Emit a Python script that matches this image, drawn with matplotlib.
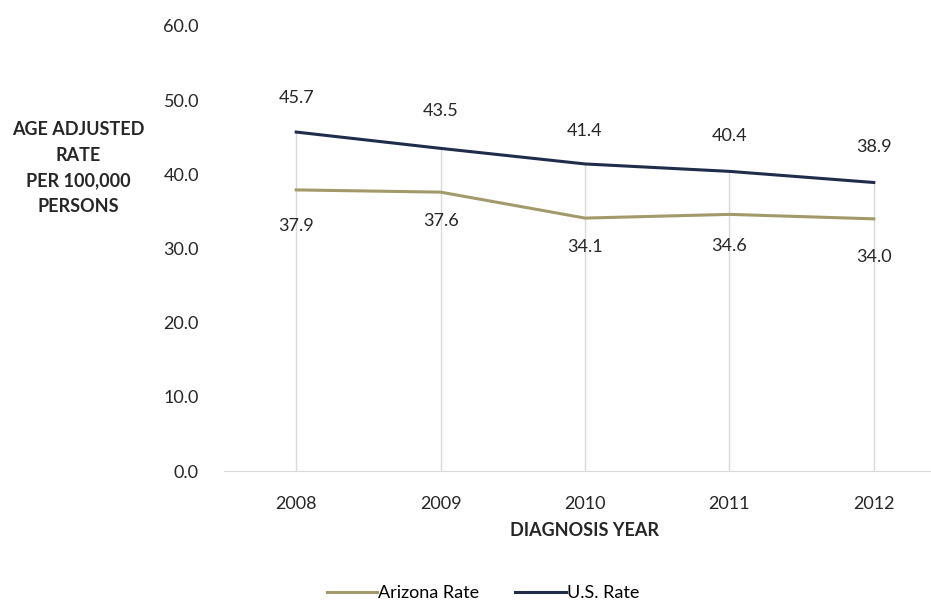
import matplotlib
matplotlib.use("Agg")
import matplotlib.pyplot as plt

years = ["2008", "2009", "2010", "2011", "2012"]
arizona = [37.9, 37.6, 34.1, 34.6, 34.0]
us = [45.7, 43.5, 41.4, 40.4, 38.9]

# label distance from the line, in pixels (labels sit above U.S., below Arizona)
us_off = [34, 37, 33, 35, 35]
az_off = [36, 29, 29, 32, 38]

plt.rcParams["font.family"] = ["Lato", "DejaVu Sans"]

fig = plt.figure(figsize=(9.31, 6.02), dpi=100)
ax = fig.add_axes([224 / 931, 1 - 471 / 602, 722 / 931, 445 / 602])

x = list(range(len(years)))
tops = [max(a, u) for a, u in zip(arizona, us)]
ax.vlines(x, 0, tops, color="#d9d9d9", lw=1, zorder=1)

ax.plot(x, arizona, color="#a39a6b", lw=2.2, label="Arizona Rate", zorder=3)
ax.plot(x, us, color="#1f2d4a", lw=2.2, label="U.S. Rate", zorder=3)

txt = "#262626"
for i, v in enumerate(us):
    ax.annotate(f"{v:.1f}", (i, v), xytext=(0, us_off[i] * 0.72), textcoords="offset points",
                ha="center", va="center", fontsize=13, color=txt)
for i, v in enumerate(arizona):
    ax.annotate(f"{v:.1f}", (i, v), xytext=(0, -az_off[i] * 0.72), textcoords="offset points",
                ha="center", va="center", fontsize=13, color=txt)

ax.set_xlim(-0.5, len(years) - 0.5)
ax.set_ylim(0, 60)
ax.set_yticks(range(0, 61, 10))
ax.set_yticklabels([f"{v:.1f}" for v in range(0, 61, 10)])
ax.set_xticks(x)
ax.set_xticklabels(years)
ax.tick_params(axis="both", length=0, labelsize=13, colors=txt)
ax.tick_params(axis="y", pad=18)
ax.tick_params(axis="x", pad=18)

for s in ["top", "right", "left"]:
    ax.spines[s].set_visible(False)
ax.spines["bottom"].set_color("#d9d9d9")

ax.set_xlabel("DIAGNOSIS YEAR", fontsize=13, fontweight="bold", color=txt, labelpad=7)
fig.text(78 / 931, 1 - 168 / 602, "AGE ADJUSTED\nRATE\nPER 100,000\nPERSONS",
         ha="center", va="center", fontsize=13, fontweight="bold",
         color=txt, linespacing=1.6)

fig.legend(loc="center", bbox_to_anchor=(483 / 931, 1 - 593 / 602), ncol=2,
           frameon=False, fontsize=13, handlelength=2.8, handletextpad=0.05,
           columnspacing=2.0)

fig.savefig("out.png", dpi=100)
